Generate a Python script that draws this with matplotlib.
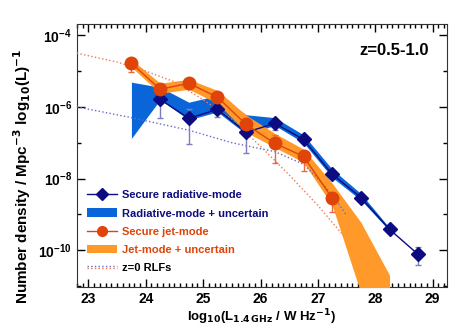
import numpy as np
import matplotlib
matplotlib.use("Agg")
import matplotlib.pyplot as plt
from matplotlib.lines import Line2D
from matplotlib.patches import Patch
from matplotlib.legend_handler import HandlerBase
from matplotlib.ticker import FixedLocator, MultipleLocator, NullFormatter

plt.rcParams['font.family'] = ['Liberation Sans', 'DejaVu Sans']
plt.rcParams['font.weight'] = 'bold'
plt.rcParams['mathtext.default'] = 'bf'

# secure radiative-mode (log10 number density)
rad_x = [24.25, 24.75, 25.25, 25.75, 26.25, 26.75, 27.25, 27.75, 28.25, 28.75]
rad_y = [-5.79, -6.32, -6.07, -6.71, -6.46, -6.91, -7.88, -8.53, -9.42, -10.12]
rad_hi = [-5.62, -6.07, -5.96, -6.48, -6.37, -6.85, -7.82, -8.47, -9.35, -9.92]
rad_lo = [-6.32, -7.04, -6.29, -7.30, -6.65, -6.99, -7.95, -8.60, -9.50, -10.40]

# radiative-mode + uncertain band
radu_x = [23.75, 24.25, 24.75, 25.25, 25.75, 26.25, 26.75, 27.25, 27.75, 28.25]
radu_hi = [-5.31, -5.45, -5.87, -5.68, -6.22, -6.30, -6.78, -7.74, -8.42, -9.38]
radu_lo = [-6.88, -5.80, -6.36, -6.14, -6.76, -6.52, -7.00, -7.97, -8.60, -9.46]

# secure jet-mode
jet_x = [23.75, 24.25, 24.75, 25.25, 25.75, 26.25, 26.75, 27.25]
jet_y = [-4.78, -5.51, -5.34, -5.73, -6.49, -7.02, -7.38, -8.55]
jet_hi = [-4.64, -5.42, -5.26, -5.65, -6.32, -6.79, -7.27, -8.39]
jet_lo = [-5.03, -5.60, -5.45, -5.82, -6.79, -7.58, -7.80, -8.94]

# jet-mode + uncertain band
jetu_x = [23.75, 24.25, 24.75, 25.25, 25.75, 26.25, 26.75, 27.25, 27.75, 28.25]
jetu_hi = [-4.67, -5.34, -5.23, -5.54, -6.23, -6.74, -7.18, -8.13, -9.22, -10.70]
jetu_lo = [-4.89, -5.62, -5.51, -5.90, -6.71, -7.13, -7.55, -8.75, -11.20, -11.20]

# z=0 RLFs
rlf_rad_x = [22.8, 23.75, 24.75, 25.5, 26.25, 26.75, 27.0, 27.25, 27.5]
rlf_rad_y = [-6.0, -6.3, -6.65, -7.0, -7.25, -7.6, -8.0, -8.45, -9.03]
rlf_jet_x = [22.8, 23.5, 24.0, 24.5, 25.0, 25.5, 26.0, 26.5, 27.0, 27.45]
rlf_jet_y = [-4.5, -4.75, -5.0, -5.3, -5.8, -6.35, -7.1, -7.9, -8.75, -9.6]

NAVY = '#0c0c80'
BLUE = '#0a66d8'
ORANGE = '#ff9a2a'
RED = '#e04408'
p = lambda v: 10.0 ** np.asarray(v)


class HandlerTwoDots(HandlerBase):
    def create_artists(self, legend, orig, xd, yd, w, h, fontsize, trans):
        l1 = Line2D([xd, xd + w], [yd + 0.6 * h, yd + 0.6 * h], ls=':', lw=1, color='#6a6ac8')
        l2 = Line2D([xd, xd + w], [yd + 0.3 * h, yd + 0.3 * h], ls=':', lw=1, color='#f07850')
        for l in (l1, l2):
            l.set_transform(trans)
        return [l1, l2]


fig = plt.figure(figsize=(4.69, 3.35), dpi=100)
ax = fig.add_axes([0.164, 0.143, 0.789, 0.785])

ax.fill_between(radu_x, p(radu_lo), p(radu_hi), color=BLUE, lw=0, zorder=2)
ax.fill_between(jetu_x, p(jetu_lo), p(jetu_hi), color=ORANGE, lw=0, zorder=3)

ax.plot(rlf_rad_x, p(rlf_rad_y), ls=':', lw=1, color='#6a6ac8', zorder=4)
ax.plot(rlf_jet_x, p(rlf_jet_y), ls=':', lw=1, color='#f07850', zorder=4)

ry = p(rad_y)
ax.errorbar(rad_x, ry, yerr=[ry - p(rad_lo), p(rad_hi) - ry], fmt='none',
            ecolor='#7c7cc0', elinewidth=1, capsize=2, zorder=5)
ax.plot(rad_x, ry, color=NAVY, lw=1, marker='D', ms=7, zorder=6)

jy = p(jet_y)
ax.errorbar(jet_x, jy, yerr=[jy - p(jet_lo), p(jet_hi) - jy], fmt='none',
            ecolor='#e86a40', elinewidth=1, capsize=2, zorder=5)
ax.plot(jet_x, jy, color=RED, lw=1, marker='o', ms=9, zorder=6)

ax.set_yscale('log')
ax.set_xlim(22.8, 29.25)
ax.set_ylim(10 ** -11.03, 10 ** -3.69)

ax.xaxis.set_major_locator(MultipleLocator(1))
ax.xaxis.set_minor_locator(MultipleLocator(0.1))
ax.yaxis.set_major_locator(FixedLocator([1e-10, 1e-8, 1e-6, 1e-4]))
ax.yaxis.set_minor_locator(FixedLocator([1e-11, 1e-9, 1e-7, 1e-5]))
ax.yaxis.set_minor_formatter(NullFormatter())
ax.tick_params(which='both', direction='in', top=True, right=True, labelsize=10, width=1)
ax.tick_params(which='major', length=6)
ax.tick_params(which='minor', length=3)
for s in ax.spines.values():
    s.set_color('#333333')

ax.set_xlabel(r'log$_{10}$(L$_{1.4\,\mathrm{GHz}}$ / W Hz$^{-1}$)', fontsize=9.5,
              fontweight='bold', labelpad=1)
ax.set_ylabel(r'Number density / Mpc$^{-3}$ log$_{10}$(L)$^{-1}$', fontsize=11,
              fontweight='bold')
ax.yaxis.set_label_coords(-0.118, 0.42)
ax.text(0.95, 0.93, 'z=0.5-1.0', transform=ax.transAxes, ha='right', va='top',
        fontsize=12, fontweight='bold')

handles = [
    Line2D([], [], color=NAVY, lw=1, marker='D', ms=6),
    Patch(color=BLUE, lw=0),
    Line2D([], [], color=RED, lw=1, marker='o', ms=7),
    Patch(color=ORANGE, lw=0),
    Line2D([], []),
]
labels = ['Secure radiative-mode', 'Radiative-mode + uncertain',
          'Secure jet-mode', 'Jet-mode + uncertain', 'z=0 RLFs']
leg = ax.legend(handles, labels, loc='lower left', bbox_to_anchor=(0.015, 0.036),
                frameon=False, fontsize=8, handlelength=2.7, handleheight=0.8,
                handletextpad=0.5, labelspacing=0.73, borderaxespad=0,
                labelcolor=[NAVY, NAVY, RED, RED, 'black'],
                handler_map={handles[4]: HandlerTwoDots()})

fig.savefig('out.png', dpi=100)
